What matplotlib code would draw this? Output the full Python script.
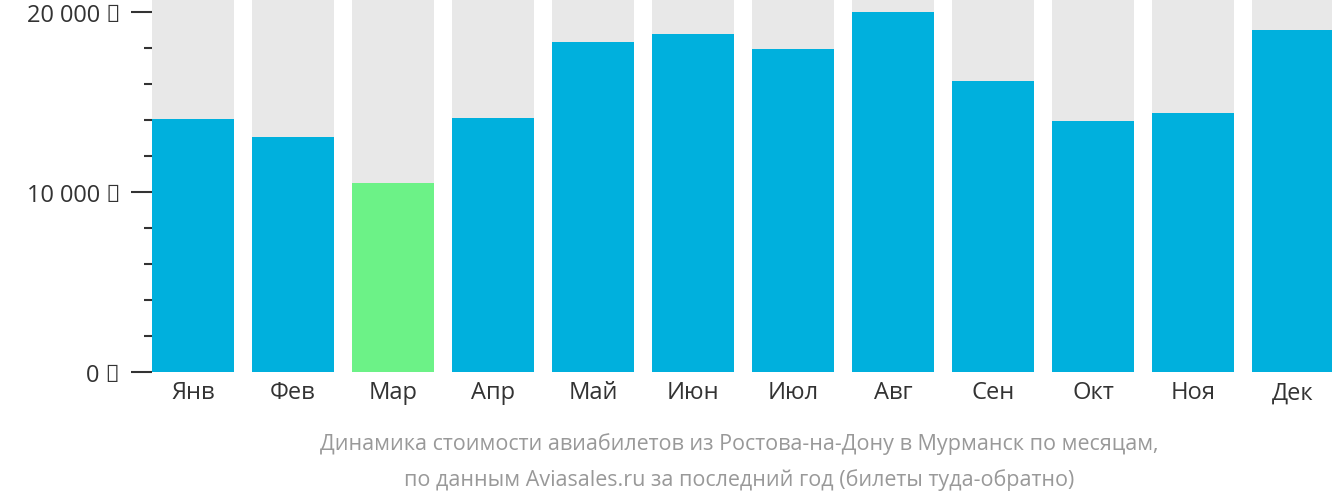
import matplotlib
matplotlib.use("Agg")
import matplotlib.pyplot as plt
from matplotlib.ticker import MultipleLocator, FixedLocator

months = ["Янв", "Фев", "Мар", "Апр", "Май", "Июн", "Июл", "Авг", "Сен", "Окт", "Ноя", "Дек"]
prices = [14050, 13050, 10500, 14100, 18300, 18750, 17950, 20000, 16150, 13950, 14400, 19000]
ymax = 20700
major_ticks = [0, 10000, 20000]
major_labels = ["0 ₽", "10 000 ₽", "20 000 ₽"]

plt.rcParams["font.family"] = "Open Sans"
fig = plt.figure(figsize=(13.32, 5.02), dpi=100)
ax = fig.add_axes([152/1332, (502-373)/502, 1180/1332, 373/502])
x = list(range(len(months)))
minv = min(prices)
colors = ["#6cf287" if p == minv else "#00b0dd" for p in prices]
ax.bar(x, [ymax]*len(x), width=0.82, color="#e8e8e8")
ax.bar(x, prices, width=0.82, color=colors)
ax.set_xlim(-0.41, 11.39)
ax.set_ylim(0, ymax)
for s in ax.spines.values():
    s.set_visible(False)
ax.set_xticks(x)
ax.set_xticklabels(months, fontsize=17, color="#333333")
ax.tick_params(axis="x", length=0, pad=6)
ax.yaxis.set_major_locator(FixedLocator(major_ticks))
ax.set_yticklabels(major_labels)
ax.yaxis.set_minor_locator(MultipleLocator(2000))
ax.tick_params(axis="y", which="major", length=15, width=1.5, color="#333333", labelsize=17, labelcolor="#333333", pad=8)
ax.tick_params(axis="y", which="minor", length=6, width=1.5, color="#333333")
fig.text(0.555, 0.115, "Динамика стоимости авиабилетов из Ростова-на-Дону в Мурманск по месяцам,", ha="center", va="center", fontsize=15.5, color="#999999")
fig.text(0.555, 0.043, "по данным Aviasales.ru за последний год (билеты туда-обратно)", ha="center", va="center", fontsize=15.5, color="#999999")
fig.savefig("out.png", dpi=100)
